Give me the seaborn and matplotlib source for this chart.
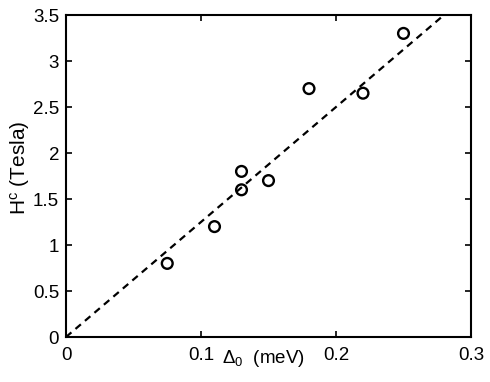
import matplotlib
matplotlib.use("Agg")
import matplotlib.pyplot as plt
import seaborn as sns
import numpy as np
import pandas as pd

# Data
delta0 = [0.075, 0.11, 0.13, 0.13, 0.15, 0.18, 0.22, 0.25]
hc = [0.8, 1.2, 1.8, 1.6, 1.7, 2.7, 2.65, 3.3]
fit_x = [0.0, 0.3]
fit_y = [0.0, 3.75]
xticks = [0, 0.1, 0.2, 0.3]
xticklabels = ["0", "0.1", "0.2", "0.3"]
yticks = [0, 0.5, 1, 1.5, 2, 2.5, 3, 3.5]
yticklabels = ["0", "0.5", "1", "1.5", "2", "2.5", "3", "3.5"]

sns.set_theme(style="white")
plt.rcParams['font.family'] = ['Liberation Sans', 'DejaVu Sans']
plt.rcParams['mathtext.fontset'] = 'custom'
plt.rcParams['mathtext.rm'] = 'Liberation Sans'
plt.rcParams['mathtext.it'] = 'Liberation Sans'
plt.rcParams['mathtext.bf'] = 'Liberation Sans:bold'

fig = plt.figure(figsize=(4.9, 3.82), dpi=100)
ax = fig.add_axes([66/490, 1-337/382, (471-66)/490, (337-15)/382])

df_pts = pd.DataFrame({"x": delta0, "y": hc})
df_fit = pd.DataFrame({"x": fit_x, "y": fit_y})

sns.lineplot(data=df_fit, x="x", y="y", ax=ax, color="black", linewidth=1.6,
             linestyle=(0, (3.2, 2.4)))
sns.scatterplot(data=df_pts, x="x", y="y", ax=ax, marker="o", s=60,
                facecolor="none", edgecolor="black", linewidth=1.7, zorder=3)

ax.set_xlim(0, 0.3)
ax.set_ylim(0, 3.5)
ax.set_xticks(xticks)
ax.set_xticklabels(xticklabels)
ax.set_yticks(yticks)
ax.set_yticklabels(yticklabels)

for s in ax.spines.values():
    s.set_color("black")
    s.set_linewidth(1.5)

ax.tick_params(direction="in", length=4, width=1.2, colors="black",
               labelsize=13.5, top=True, right=True, bottom=True, left=True)
ax.tick_params(axis="y", pad=5)
ax.tick_params(axis="x", pad=7)

ax.set_xlabel(r"$\Delta_0$  (meV)", fontsize=13.5, color="black")
ax.xaxis.set_label_coords(0.488, -0.081)
ax.xaxis.label.set_va("baseline")

ax.set_ylabel(r"H$^{\mathrm{c}}$ (Tesla)", fontsize=15, color="black")
ax.yaxis.set_label_coords(-0.114, 0.525)
ax.yaxis.label.set_va("center")
ax.yaxis.label.set_ha("center")

fig.savefig("out.png", dpi=100)
